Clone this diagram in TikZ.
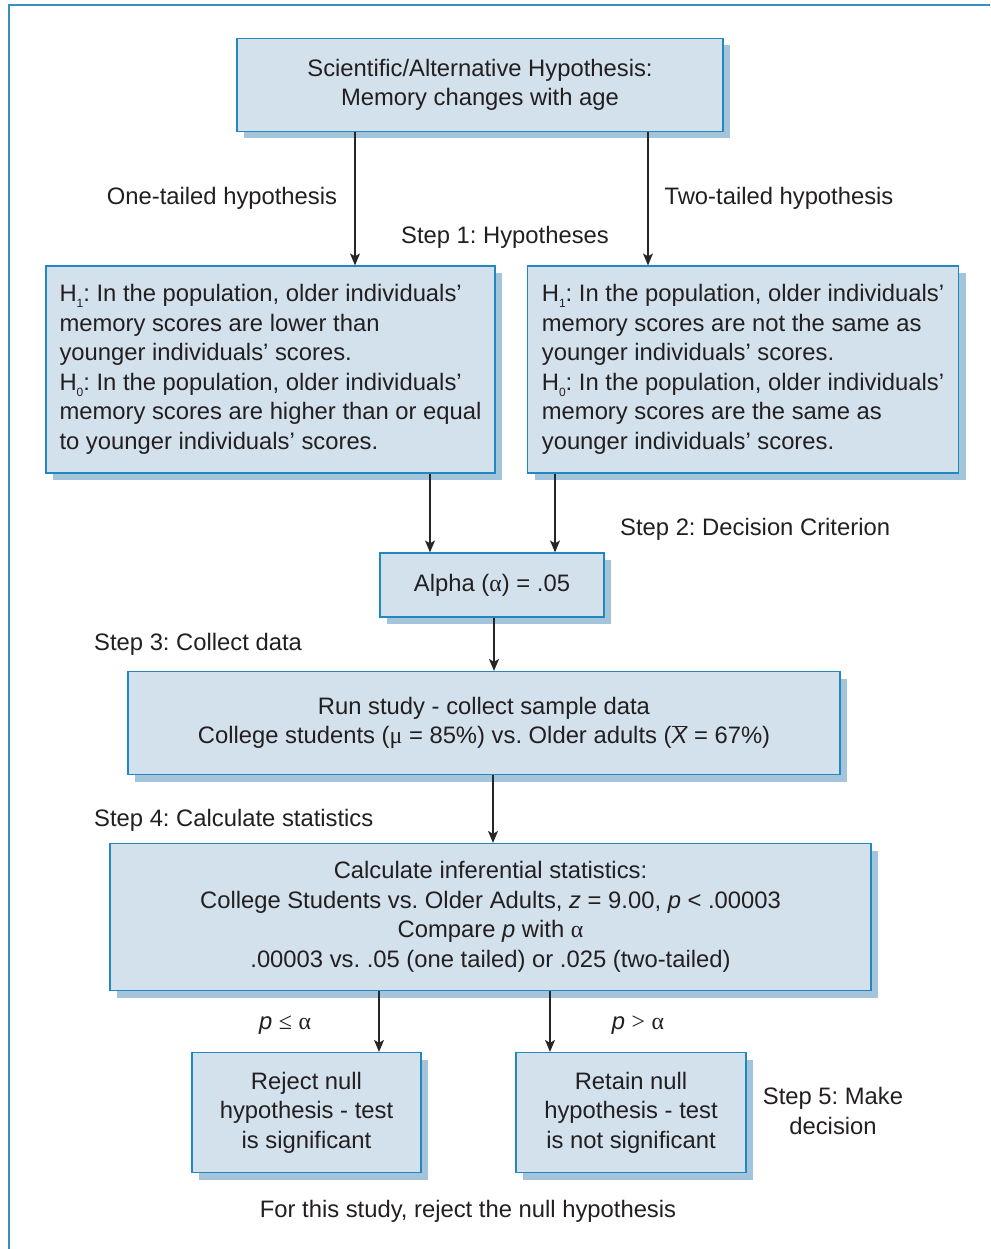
\documentclass[tikz,border=0pt]{standalone}
\usepackage{fontspec}
\setmainfont{Liberation Sans}
\newfontfamily\grk{Liberation Serif}
\usetikzlibrary{arrows.meta,shadows}
\definecolor{boxfill}{HTML}{D3E1EC}
\definecolor{boxline}{HTML}{2388BF}
\definecolor{shadowc}{HTML}{A3C4DA}
\definecolor{framec}{HTML}{3A8FC0}
\definecolor{txt}{HTML}{231F20}
\definecolor{arrc}{HTML}{262626}
\frenchspacing
\newcommand\al{{\grk α}}
\newcommand\sbs[1]{\raisebox{-0.45ex}{\fontsize{12}{12}\selectfont #1}}
\newcommand\fs{\fontsize{23.8}{29.5}\selectfont}
\tikzset{
  fbox/.style={draw=boxline, line width=1.2pt, fill=boxfill, rectangle, inner sep=0pt,
    general shadow={fill=shadowc, shadow xshift=7pt, shadow yshift=-7pt},
    text=txt, font=\fs},
  lbl/.style={text=txt, font=\fs, inner sep=0pt},
  arr/.style={draw=arrc, line width=1.2pt, -{Stealth[length=12pt,width=10pt,inset=3pt]}},
}
\begin{document}
\begin{tikzpicture}[x=1pt,y=-1pt]
\useasboundingbox (0,0) rectangle (990,1249);
\fill[white] (0,0) rectangle (990,1249);
\draw[framec, line width=1.5pt] (9,1249) -- (9,5) -- (990,5);

\node[fbox, minimum width=486pt, minimum height=93pt, align=center] (top) at (480,85)
  {Scientific/Alternative Hypothesis:\\Memory changes with age};
\node[fbox, minimum width=449pt, minimum height=207pt, align=left] (h1) at (270.5,369.5)
  {H\sbs{1}: In the population, older individuals’\\
   memory scores are lower than\\
   younger individuals’ scores.\\
   H\sbs{0}: In the population, older individuals’\\
   memory scores are higher than or equal\\
   to younger individuals’ scores.};
\node[fbox, minimum width=431pt, minimum height=207pt, align=left] (h2) at (743,369.5)
  {H\sbs{1}: In the population, older individuals’\\
   memory scores are not the same as\\
   younger individuals’ scores.\\
   H\sbs{0}: In the population, older individuals’\\
   memory scores are the same as\\
   younger individuals’ scores.};
\node[fbox, minimum width=224pt, minimum height=64pt] (alpha) at (492,585)
  {Alpha (\al) = .05};
\node[fbox, minimum width=712pt, minimum height=103pt, align=center] (run) at (484,723)
  {Run study - collect sample data\\
   College students ({\grk μ} = 85\%) vs. Older adults ($\overline{\hbox{\itshape X}}$ = 67\%)};
\node[fbox, minimum width=761pt, minimum height=147pt, align=center] (calc) at (490.5,917)
  {Calculate inferential statistics:\\
   College Students vs. Older Adults, \textit{z} = 9.00, \textit{p} < .00003\\
   Compare \textit{p} with \al\\
   .00003 vs. .05 (one tailed) or .025 (two-tailed)};
\node[fbox, minimum width=229pt, minimum height=120pt, align=center] (rej) at (306.5,1112.5)
  {Reject null\\hypothesis - test\\is significant};
\node[fbox, minimum width=230pt, minimum height=120pt, align=center] (ret) at (631,1112.5)
  {Retain null\\hypothesis - test\\is not significant};

\node[lbl] (onet) at (222,198) {One-tailed hypothesis};
\node[lbl] (twot) at (779,198) {Two-tailed hypothesis};
\node[lbl] (s1) at (505,237) {Step 1: Hypotheses};
\node[lbl, anchor=west] (s2) at (620,529) {Step 2: Decision Criterion};
\node[lbl, anchor=west] (s3) at (94,644) {Step 3: Collect data};
\node[lbl, anchor=west] (s4) at (94,820) {Step 4: Calculate statistics};
\node[lbl] (ple) at (285,1025) {\textit{p} {\grk ≤} \al};
\node[lbl] (pgt) at (638,1025) {\textit{p} {\grk >} \al};
\node[lbl, align=center] (s5) at (833,1111) {Step 5: Make\\decision};
\node[lbl] (concl) at (468,1211) {For this study, reject the null hypothesis};

\coordinate (xa) at (355,0);
\coordinate (xb) at (648,0);
\coordinate (xc) at (430,0);
\coordinate (xd) at (555,0);
\coordinate (xe) at (494,0);
\coordinate (xf) at (493,0);
\coordinate (xg) at (379,0);
\coordinate (xh) at (550,0);
\draw[arr] (top.south -| xa) -- (h1.north -| xa);
\draw[arr] (top.south -| xb) -- (h2.north -| xb);
\draw[arr] (h1.south -| xc) -- (alpha.north -| xc);
\draw[arr] (h2.south -| xd) -- (alpha.north -| xd);
\draw[arr] (alpha.south -| xe) -- (run.north -| xe);
\draw[arr] (run.south -| xf) -- (calc.north -| xf);
\draw[arr] (calc.south -| xg) -- (rej.north -| xg);
\draw[arr] (calc.south -| xh) -- (ret.north -| xh);
\end{tikzpicture}
\end{document}
